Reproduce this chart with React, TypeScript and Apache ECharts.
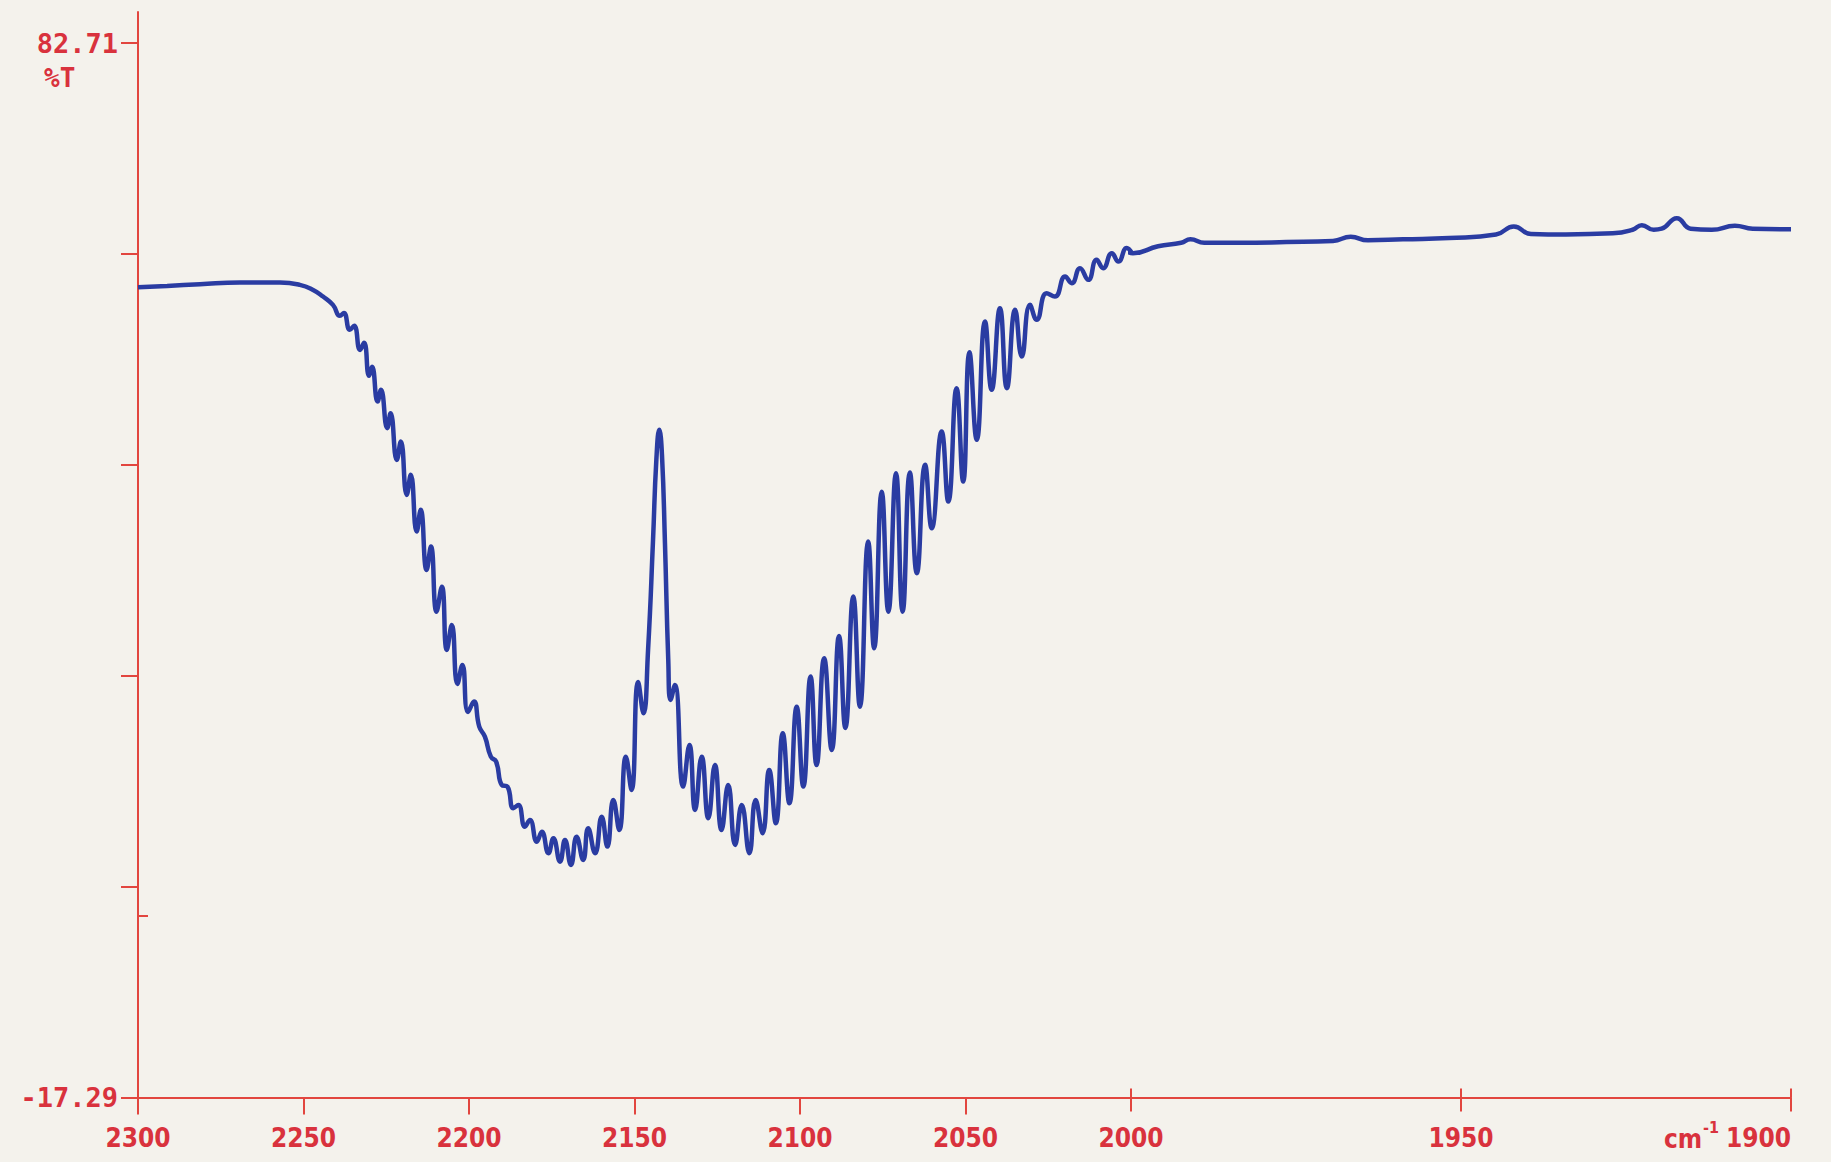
import React, { useEffect, useRef } from "react";
import * as echarts from "echarts";

// ---- Data (wavenumber cm-1, %T) ----
const START_WN = [2300.0, 2291.2, 2281.3, 2269.2, 2257.1, 2251.1, 2247.1, 2244.1, 2241.1];
const START_T = [59.56, 59.68, 59.84, 60.0, 60.0, 59.78, 59.3, 58.67, 57.88];

const R_BRANCH_WN = [
  2239.0, 2237.8, 2236.0, 2234.7, 2232.9, 2231.7, 2230.2, 2229.3,
  2227.6, 2226.6, 2224.7, 2223.7, 2221.8, 2220.6, 2218.8, 2217.6, 2215.8, 2214.6, 2212.8,
  2211.5, 2209.8, 2208.2, 2206.7, 2205.2, 2203.5, 2202.0, 2200.3,
  2198.5, 2196.9, 2195.2, 2193.4, 2191.8, 2190.1, 2188.4, 2186.6, 2185.1, 2183.1, 2181.6,
  2179.5, 2178.0, 2176.0, 2174.5, 2172.5, 2171.0, 2169.2, 2167.5, 2165.5, 2164.0, 2161.9,
  2159.9, 2158.2, 2156.4, 2154.6, 2152.6, 2150.9, 2148.9, 2147.3,
];
const R_BRANCH_T = [
  56.84, 57.12, 55.51, 55.89, 53.61, 54.28, 51.15, 52.0,
  48.71, 49.82, 46.19, 47.61, 43.18, 44.92, 39.86, 41.76, 36.38, 38.44, 32.75,
  34.96, 28.79, 31.16, 25.16, 27.53, 21.94, 23.74, 19.28,
  20.26, 17.89, 16.94, 15.04, 14.57, 12.36, 12.2, 10.15, 10.46, 8.4, 9.04,
  6.98, 7.93, 5.88, 7.3, 5.08, 7.14, 4.77, 7.45, 5.24, 8.25, 5.88,
  9.35, 6.51, 10.93, 8.09, 15.04, 11.88, 22.13, 19.16,
];

const CENTER_WN = [2145.9, 2144.4, 2143.4, 2142.5, 2141.7, 2140.8, 2139.8, 2139.1, 2137.8];
const CENTER_T = [25.16, 35.59, 43.18, 46.03, 43.65, 35.31, 24.21, 20.42, 21.84];

const P_BRANCH_WN = [
  2135.3, 2133.4, 2131.7, 2129.7, 2127.7, 2125.7, 2123.7, 2121.7, 2119.6, 2117.6,
  2115.3, 2113.4, 2111.3, 2109.3, 2107.3, 2105.2, 2103.2, 2101.0, 2099.0, 2096.8,
  2095.0, 2092.7, 2090.4, 2088.2, 2086.3, 2083.9, 2081.9, 2079.4, 2077.6, 2075.3,
  2073.3, 2071.0, 2069.0, 2066.8, 2064.7, 2062.2, 2060.2, 2057.2, 2055.2, 2052.7,
  2050.7, 2048.8, 2046.6, 2044.1, 2042.1, 2039.6, 2037.5, 2035.0, 2033.0, 2030.5,
  2028.5, 2025.5, 2023.0, 2019.9, 2017.9, 2015.4, 2012.9, 2010.4, 2008.4, 2005.8,
  2003.8, 2001.3, 1999.7,
];
const P_BRANCH_T = [
  12.2, 16.15, 9.99, 15.04, 9.2, 14.25, 8.09, 12.36, 6.67, 10.46,
  5.88, 10.93, 7.78, 13.78, 8.73, 17.26, 10.62, 19.78, 12.2, 22.63,
  14.25, 24.37, 15.68, 26.49, 17.76, 30.22, 19.78, 35.43, 25.32, 40.17,
  28.79, 41.92, 28.79, 41.98, 32.43, 42.71, 36.7, 45.86, 39.23, 49.98,
  41.12, 53.38, 45.08, 56.3, 49.82, 57.57, 49.98, 57.41, 52.98, 57.88,
  56.46, 58.99, 58.67, 60.56, 59.94, 61.36, 60.25, 62.15, 61.36, 62.78,
  61.99, 63.26, 62.78,
];

const BASELINE_WN = [
  1995.9, 1992.4, 1991.0, 1988.9, 1983.6, 1976.5, 1969.4, 1966.7, 1964.1, 1958.8,
  1951.8, 1944.7, 1942.0, 1939.4, 1934.1, 1927.0, 1924.0, 1922.6, 1920.8, 1919.6,
  1917.3, 1915.2, 1912.0, 1908.5, 1905.8, 1900.0,
];
const BASELINE_T = [
  63.44, 63.77, 64.1, 63.77, 63.77, 63.83, 63.94, 64.33, 64.0, 64.1,
  64.22, 64.55, 65.32, 64.6, 64.55, 64.66, 65.0, 65.44, 65.0, 65.1,
  66.1, 65.1, 65.0, 65.38, 65.1, 65.05,
];

// axis ticks / labels
const X_TICKS_HIGH = [2300, 2250, 2200, 2150, 2100, 2050];
const X_TICKS_LOW = [2000, 1950, 1900];
const Y_TICKS = [-17.29, 2.71, 22.71, 42.71, 62.71, 82.71];
const Y_LABELS = [-17.29, 82.71];
const Y_ZERO_TICK = [0];
const Y_MIN = -17.29;
const Y_MAX = 85.65;

const RED = "#e2463f";
const LABEL_RED = "#d9323d";
const BLUE = "#2a3ca2";
const PAPER = "#f4f2ec";

const ALL_WN = [...START_WN, ...R_BRANCH_WN, ...CENTER_WN, ...P_BRANCH_WN, ...BASELINE_WN];
const ALL_T = [...START_T, ...R_BRANCH_T, ...CENTER_T, ...P_BRANCH_T, ...BASELINE_T];
const PAIRS = ALL_WN.map((w, i) => [w, ALL_T[i]]);

export default function App() {
  const ref = useRef<HTMLDivElement>(null);

  useEffect(() => {
    if (!ref.current) return;
    const chart = echarts.init(ref.current, undefined, { renderer: "svg" });

    const axisLine = { show: true, onZero: false, lineStyle: { color: RED, width: 2 } };
    const xLabel = {
      color: LABEL_RED,
      fontFamily: "DejaVu Sans Condensed",
      fontWeight: "bold" as const,
      fontSize: 26,
      margin: 27,
    };

    chart.setOption({
      animation: false,
      backgroundColor: PAPER,
      grid: [
        { left: 138, top: 12, width: 993, height: 1085.6 },
        { left: 1131, top: 12, width: 660, height: 1085.6 },
      ],
      xAxis: [
        {
          type: "value",
          gridIndex: 0,
          min: 2000,
          max: 2300,
          inverse: true,
          axisLine,
          splitLine: { show: false },
          axisTick: {
            show: true,
            length: 17,
            customValues: X_TICKS_HIGH,
            lineStyle: { color: RED, width: 2 },
          },
          axisLabel: { ...xLabel, customValues: X_TICKS_HIGH, formatter: (v: number) => String(v) },
        },
        {
          type: "value",
          gridIndex: 1,
          min: 1900,
          max: 2000,
          inverse: true,
          axisLine,
          splitLine: { show: false },
          axisTick: {
            show: true,
            length: 14,
            customValues: X_TICKS_LOW,
            lineStyle: { color: RED, width: 2 },
          },
          axisLabel: {
            ...xLabel,
            customValues: X_TICKS_LOW,
            alignMaxLabel: "right",
            formatter: (v: number) => String(v),
          },
        },
        {
          type: "value",
          gridIndex: 1,
          position: "bottom",
          min: 1900,
          max: 2000,
          inverse: true,
          axisLine: { show: false, onZero: false },
          splitLine: { show: false },
          axisLabel: { show: false },
          axisTick: {
            show: true,
            inside: true,
            length: 9,
            customValues: X_TICKS_LOW,
            lineStyle: { color: RED, width: 2 },
          },
        },
      ],
      yAxis: [
        {
          type: "value",
          gridIndex: 0,
          min: Y_MIN,
          max: Y_MAX,
          axisLine,
          splitLine: { show: false },
          axisTick: {
            show: true,
            length: 17,
            customValues: Y_TICKS,
            lineStyle: { color: RED, width: 2 },
          },
          axisLabel: {
            customValues: Y_LABELS,
            formatter: (v: number) => v.toFixed(2),
            color: LABEL_RED,
            fontFamily: "DejaVu Sans Mono",
            fontWeight: "bold",
            fontSize: 27,
            margin: 20,
          },
        },
        {
          type: "value",
          gridIndex: 0,
          position: "left",
          min: Y_MIN,
          max: Y_MAX,
          axisLine: { show: false, onZero: false },
          splitLine: { show: false },
          axisLabel: { show: false },
          axisTick: {
            show: true,
            inside: true,
            length: 10,
            customValues: Y_ZERO_TICK,
            lineStyle: { color: RED, width: 2 },
          },
        },
        {
          type: "value",
          gridIndex: 1,
          min: Y_MIN,
          max: Y_MAX,
          show: false,
        },
      ],
      series: [
        {
          type: "line",
          xAxisIndex: 0,
          yAxisIndex: 0,
          data: PAIRS.filter((p) => p[0] >= 1999),
          showSymbol: false,
          smooth: 0.5,
          clip: true,
          lineStyle: { color: BLUE, width: 4.5 },
        },
        {
          type: "line",
          xAxisIndex: 1,
          yAxisIndex: 2,
          data: PAIRS.filter((p) => p[0] <= 2002),
          showSymbol: false,
          smooth: 0.5,
          clip: true,
          lineStyle: { color: BLUE, width: 4.5 },
        },
      ],
      graphic: [
        {
          type: "text",
          left: 44,
          top: 65,
          style: {
            text: "%T",
            fill: LABEL_RED,
            font: "bold 26px 'DejaVu Sans Mono'",
          },
        },
        {
          type: "text",
          left: 1664,
          top: 1126,
          style: {
            text: "cm",
            fill: LABEL_RED,
            font: "bold 26px 'DejaVu Sans Condensed'",
          },
        },
        {
          type: "text",
          left: 1703,
          top: 1119,
          style: {
            text: "-1",
            fill: LABEL_RED,
            font: "bold 16px 'DejaVu Sans Condensed'",
          },
        },
      ],
    });

    return () => chart.dispose();
  }, []);

  return (
    <div
      ref={ref}
      style={{ position: "fixed", left: 0, top: 0, width: 1831, height: 1162, background: PAPER }}
    />
  );
}
